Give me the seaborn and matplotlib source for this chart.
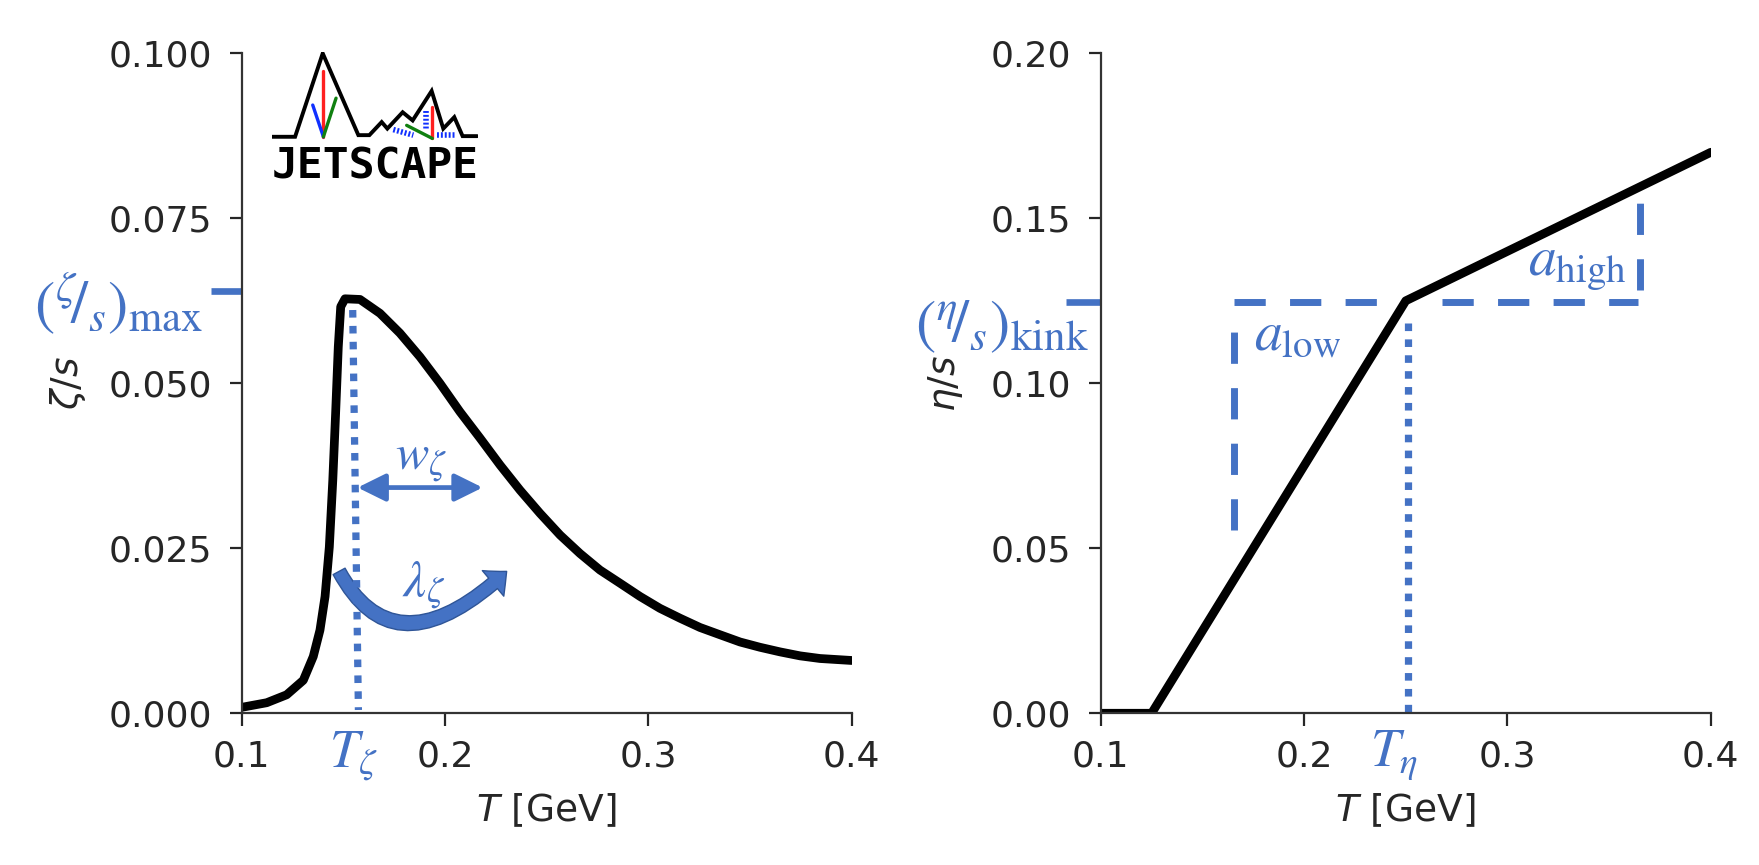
import numpy as np
import pandas as pd
import matplotlib
matplotlib.use('Agg')
import matplotlib.pyplot as plt
from matplotlib.path import Path
from matplotlib.patches import FancyArrowPatch
import seaborn as sns

# bulk viscosity curve
T_bulk = [0.1000, 0.1123, 0.1221, 0.1303, 0.1352, 0.1385, 0.1410, 0.1431, 0.1448,
          0.1462, 0.1475, 0.1487, 0.1508, 0.1582, 0.1680, 0.1778, 0.1877, 0.1975,
          0.2073, 0.2172, 0.2271, 0.2369, 0.2467, 0.2566, 0.2664, 0.2762, 0.2861,
          0.2959, 0.3057, 0.3156, 0.3254, 0.3352, 0.3451, 0.3549, 0.3648, 0.3746,
          0.3844, 0.4000]
zeta_s = [0.0009, 0.0016, 0.0028, 0.0050, 0.0086, 0.0126, 0.0177, 0.0252, 0.0353,
          0.0455, 0.0555, 0.0616, 0.0628, 0.0627, 0.0606, 0.0576, 0.0540, 0.0500,
          0.0457, 0.0417, 0.0376, 0.0338, 0.0303, 0.0270, 0.0242, 0.0217, 0.0197,
          0.0177, 0.0159, 0.0144, 0.0130, 0.0119, 0.0108, 0.0100, 0.0093, 0.0087,
          0.0083, 0.0080]

# shear viscosity curve, right panel
T_shear = [0.10, 0.125, 0.25, 0.40]
eta_s = [0.0, 0.0, 0.125, 0.17]

# parameter markers (left)
zeta_max = 0.064
T_zeta_line_x = [0.1546, 0.1574]
T_zeta_line_y = [0.0611, 0.0005]
w_zeta_span = [0.1570, 0.2185]
w_zeta_y = 0.0342
lam_start = (0.1479, 0.0215)
lam_ctrl = (0.1754, 0.0058)
lam_end = (0.2303, 0.0215)

# parameter markers (right)
eta_kink = 0.1245
T_eta = 0.251
T_eta_top = 0.1184
a_low_x = 0.1657
a_low_y = [0.0554, 0.1218]
kink_left = [0.1657, 0.236]
kink_right = [0.268, 0.3643]
a_high_x = 0.3652
a_high_y = [0.1282, 0.1614]

BLUE = '#4472C4'

sns.set_theme(style='ticks')
plt.rcParams['font.family'] = ['DejaVu Sans']
plt.rcParams.update({
    'axes.edgecolor': '#333333', 'axes.linewidth': 1.6,
    'xtick.major.width': 1.6, 'ytick.major.width': 1.6,
    'xtick.major.size': 9, 'ytick.major.size': 9,
    'xtick.major.pad': 10, 'ytick.major.pad': 12,
    'xtick.labelsize': 26, 'ytick.labelsize': 26,
    'xtick.color': '#262626', 'ytick.color': '#262626',
})

fig = plt.figure(figsize=(17.59, 8.65), dpi=100)
ax1 = fig.add_axes([0.1374, 0.1754, 0.3468, 0.7630])
ax2 = fig.add_axes([0.6258, 0.1754, 0.3468, 0.7630])

dash = (4.5, 3.5)
dot = (1.05, 1.15)

# ---- left panel: zeta/s
sns.lineplot(x=T_bulk, y=zeta_s, ax=ax1, color='black', linewidth=6.3, sort=False)
ax1.set_xlim(0.1, 0.4)
ax1.set_ylim(0, 0.1)
ax1.set_xticks([0.1, 0.2, 0.3, 0.4], ['0.1', '0.2', '0.3', '0.4'])
ax1.set_yticks([0, 0.025, 0.05, 0.075, 0.1], ['0.000', '0.025', '0.050', '0.075', '0.100'])
ax1.set_xlabel(r'$T$ [GeV]', fontsize=27)
ax1.set_ylabel(r'$\zeta/s$', fontsize=27)
ax1.yaxis.set_label_coords(-0.252, 0.5)
ax1.xaxis.set_label_coords(0.5, -0.118)

ax1.plot([0.0849, 0.1], [zeta_max, zeta_max], color=BLUE, lw=4.8,
         solid_capstyle='butt', clip_on=False)
ax1.text(0.0810, 0.0591, r'$(^{\zeta}\!/_{s})_{\mathrm{max}}$', color=BLUE,
         fontsize=44, math_fontfamily='stix', ha='right', va='baseline', clip_on=False)
ax1.plot(T_zeta_line_x, T_zeta_line_y, color=BLUE, lw=5.2, dashes=dot)
ax1.text(0.155, -0.0081, r'$T_{\zeta}$', color=BLUE, fontsize=38,
         math_fontfamily='stix', ha='center', va='baseline', clip_on=False)

ax1.annotate('', xy=(w_zeta_span[1], w_zeta_y), xytext=(w_zeta_span[0], w_zeta_y),
             arrowprops=dict(arrowstyle='<|-|>,head_length=0.85,head_width=0.42',
                             mutation_scale=20, color=BLUE, lw=3.4,
                             shrinkA=0, shrinkB=0))
ax1.text(0.1880, 0.0370, r'$w_{\zeta}$', color=BLUE, fontsize=36,
         math_fontfamily='stix', ha='center', va='baseline')

lam_path = Path([lam_start, lam_ctrl, lam_end], [Path.MOVETO, Path.CURVE3, Path.CURVE3])
arc = FancyArrowPatch(path=lam_path, transform=ax1.transData,
                      arrowstyle='simple,head_length=0.87,head_width=1.6,tail_width=0.65',
                      mutation_scale=15, facecolor=BLUE, edgecolor='#2F5597', lw=1)
ax1.add_patch(arc)
ax1.text(0.1897, 0.0178, r'$\lambda_{\zeta}$', color=BLUE, fontsize=37,
         math_fontfamily='stix', ha='center', va='baseline')

# ---- right panel: eta/s
sns.lineplot(x=T_shear, y=eta_s, ax=ax2, color='black', linewidth=6.3, sort=False)
ax2.set_xlim(0.1, 0.4)
ax2.set_ylim(0, 0.2)
ax2.set_xticks([0.1, 0.2, 0.3, 0.4], ['0.1', '0.2', '0.3', '0.4'])
ax2.set_yticks([0, 0.05, 0.1, 0.15, 0.2], ['0.00', '0.05', '0.10', '0.15', '0.20'])
ax2.set_xlabel(r'$T$ [GeV]', fontsize=27)
ax2.set_ylabel(r'$\eta/s$', fontsize=27)
ax2.yaxis.set_label_coords(-0.2225, 0.5)
ax2.xaxis.set_label_coords(0.5, -0.118)

ax2.plot([0.0831, 0.1], [eta_kink, eta_kink], color=BLUE, lw=4.8,
         solid_capstyle='butt', clip_on=False)
ax2.text(0.0942, 0.1124, r'$(^{\eta}\!/_{s})_{\mathrm{kink}}$', color=BLUE,
         fontsize=44, math_fontfamily='stix', ha='right', va='baseline', clip_on=False)
ax2.plot(kink_left, [eta_kink, eta_kink], color=BLUE, lw=5, dashes=dash)
ax2.plot(kink_right, [eta_kink, eta_kink], color=BLUE, lw=5, dashes=dash)
ax2.plot([a_low_x, a_low_x], a_low_y, color=BLUE, lw=5, dashes=dash)
ax2.plot([a_high_x, a_high_x], a_high_y, color=BLUE, lw=5, dashes=dash)
ax2.plot([T_eta, T_eta], [T_eta_top, 0.0], color=BLUE, lw=5.2, dashes=dot)
ax2.text(0.1755, 0.1101, r'$a_{\mathrm{low}}$', color=BLUE, fontsize=40,
         math_fontfamily='stix', ha='left', va='baseline')
ax2.text(0.3100, 0.1327, r'$a_{\mathrm{high}}$', color=BLUE, fontsize=40,
         math_fontfamily='stix', ha='left', va='baseline')
ax2.text(0.244, -0.0159, r'$T_{\eta}$', color=BLUE, fontsize=38,
         math_fontfamily='stix', ha='center', va='baseline', clip_on=False)

sns.despine(fig=fig)

# ---- JETSCAPE logo (drawn by hand, in its own little axes)
lg = fig.add_axes([0.1545, 0.7927, 0.1174, 0.1475])
lg.set_xlim(275, 895)
lg.set_ylim(480, 90)
lg.axis('off')
mx = [275, 345, 428, 535, 568, 605, 622, 668, 698, 755, 790, 823, 848, 892]
my = [350, 350, 95, 345, 345, 305, 325, 275, 300, 210, 325, 290, 348, 348]
lg.plot(mx, my, color='black', lw=2.8, solid_joinstyle='miter')
lg.plot([430, 430], [148, 350], color='#FF2020', lw=2.4)
lg.plot([398, 430], [253, 350], color='#1030FF', lw=2.4)
lg.plot([468, 430], [232, 350], color='#108010', lw=2.4)
lg.plot([757, 757], [258, 355], color='#FF2020', lw=2.4)
lg.plot([680, 757], [315, 355], color='#108010', lw=2.4)
for cx, cy in [([640, 700], [328, 345]), ([737, 737], [272, 330]), ([770, 828], [345, 345])]:
    lg.plot(cx, cy, color='#1030FF', lw=4, dashes=(0.35, 0.35))
lg.text(585, 476, 'JETSCAPE', fontfamily='DejaVu Sans Mono', fontweight='bold',
        fontsize=31, ha='center', va='baseline', color='black')

fig.savefig('out.png', dpi=100)
